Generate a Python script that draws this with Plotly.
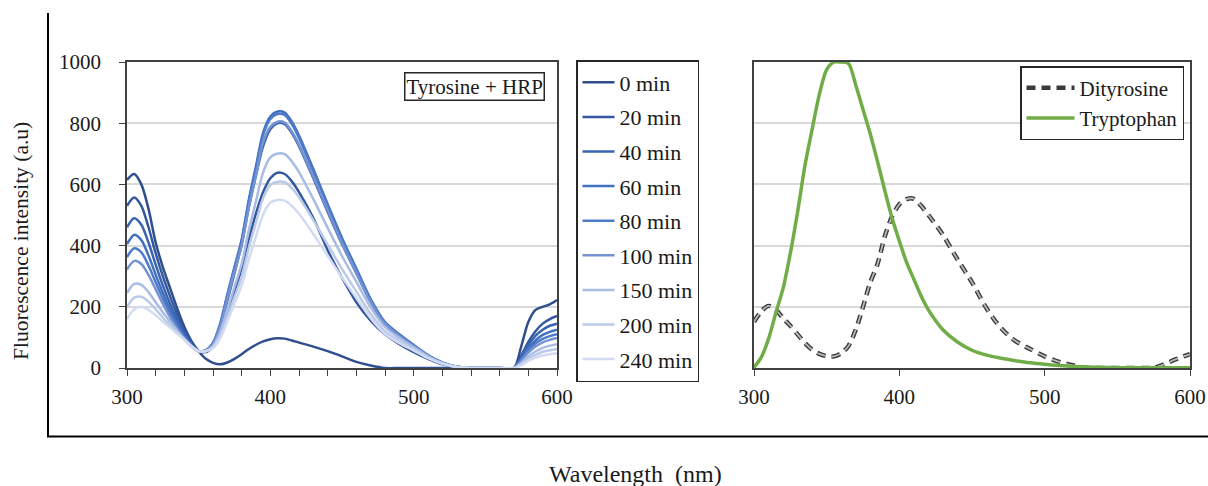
import plotly.graph_objects as go

# ---------------- data ----------------
wavelength = [300, 305, 310, 315, 320, 325, 330, 335, 340, 345, 350, 355, 360, 365, 370,
              375, 380, 385, 390, 395, 400, 405, 410, 415, 420, 430, 440, 450, 460, 470,
              480, 490, 500, 510, 520, 530, 540, 550, 560, 570, 575, 580, 585, 590, 595, 600]

series_names = ["0 min", "20 min", "40 min", "60 min", "80 min",
                "100 min", "150 min", "200 min", "240 min"]

tyr_0 = [615, 634, 600, 520, 410, 330, 262, 195, 135, 88, 55, 30, 17, 12, 18,
         30, 45, 62, 76, 87, 94, 97, 96, 90, 83, 70, 55, 38, 20, 8,
         0, 0, 0, 0, 0, 0, 0, 0, 0, 0, 70, 150, 190, 200, 208, 222]
tyr_20 = [530, 557, 530, 460, 375, 300, 235, 175, 122, 82, 56, 52, 70, 110, 175,
          250, 325, 420, 505, 575, 620, 638, 634, 610, 575, 490, 385, 295, 215, 155,
          110, 78, 52, 30, 12, 3, 0, 0, 0, 0, 40, 85, 120, 145, 160, 170]
tyr_40 = [460, 489, 468, 410, 338, 270, 210, 158, 112, 78, 56, 56, 80, 135, 220,
          310, 405, 525, 630, 725, 780, 800, 797, 768, 725, 620, 510, 405, 310, 215,
          143, 105, 71, 40, 17, 4, 0, 0, 0, 0, 35, 75, 105, 125, 138, 145]
tyr_60 = [405, 435, 418, 368, 305, 245, 192, 145, 105, 75, 55, 58, 82, 145, 240,
          330, 420, 550, 660, 770, 822, 838, 835, 805, 760, 650, 535, 425, 325, 225,
          150, 110, 75, 42, 18, 4, 0, 0, 0, 0, 30, 65, 90, 108, 118, 125]
tyr_80 = [362, 391, 378, 335, 280, 227, 178, 136, 100, 72, 55, 58, 80, 142, 236,
          326, 415, 543, 652, 762, 814, 830, 827, 797, 752, 643, 530, 420, 322, 222,
          148, 108, 74, 41, 17, 4, 0, 0, 0, 0, 26, 58, 80, 95, 104, 110]
tyr_100 = [322, 350, 340, 304, 257, 210, 166, 128, 95, 70, 55, 57, 78, 136, 226,
           315, 400, 525, 630, 738, 788, 805, 802, 773, 730, 625, 515, 408, 312, 216,
           144, 105, 72, 40, 17, 4, 0, 0, 0, 0, 22, 50, 70, 84, 92, 98]
tyr_150 = [245, 275, 272, 248, 215, 182, 152, 122, 95, 72, 55, 56, 72, 118, 190,
           265, 340, 450, 545, 640, 688, 701, 699, 675, 640, 552, 458, 366, 282, 198,
           134, 98, 68, 38, 16, 4, 0, 0, 0, 0, 16, 38, 54, 66, 73, 78]
tyr_200 = [200, 230, 233, 217, 192, 165, 140, 116, 93, 71, 55, 55, 68, 105, 166,
           232, 298, 393, 475, 556, 598, 609, 607, 588, 558, 483, 403, 324, 250, 177,
           120, 88, 61, 34, 15, 3, 0, 0, 0, 0, 12, 30, 43, 53, 58, 62]
tyr_240 = [160, 192, 200, 190, 172, 152, 132, 112, 92, 70, 55, 55, 65, 97, 152,
           210, 270, 355, 430, 502, 540, 549, 547, 530, 504, 438, 367, 296, 229, 163,
           111, 81, 57, 32, 14, 3, 0, 0, 0, 0, 9, 23, 34, 41, 45, 48]

tyr_series = [tyr_0, tyr_20, tyr_40, tyr_60, tyr_80, tyr_100, tyr_150, tyr_200, tyr_240]

dityrosine = [151, 185, 203, 190, 163, 138, 110, 82, 60, 46, 39, 38, 48, 72, 125,
              200, 280, 340, 430, 495, 535, 552, 553, 530, 500, 435, 355, 280, 195, 130,
              88, 62, 38, 20, 8, 0, 0, 0, 0, 0, 0, 8, 18, 28, 37, 45]
tryptophan = [2, 35, 95, 180, 260, 375, 510, 660, 780, 895, 975, 1000, 1000, 995, 925,
              845, 765, 675, 580, 490, 415, 345, 290, 235, 190, 125, 85, 58, 42, 32,
              24, 17, 12, 8, 5, 3, 2, 1, 1, 1, 1, 1, 1, 1, 1, 1]

x_tickvals_left = list(range(300, 601, 20))
x_ticktext_left = ["300", "", "", "", "", "400", "", "", "", "", "500", "", "", "", "", "600"]
x_tickvals_right = [300, 400, 500, 600]
x_ticktext_right = ["300", "400", "500", "600"]
y_tickvals = [0, 200, 400, 600, 800, 1000]
y_ticktext = ["0", "200", "400", "600", "800", "1000"]

# ---------------- style ----------------
W, H = 1208, 486
FONT = "Liberation Serif"
TXT = "#1a1a1a"
AX = "#404040"
series_colors = ["#2E4E8E", "#34589F", "#3B63B0", "#4170C0", "#4E7BC8",
                 "#7593D3", "#A9BCE4", "#BCCAEA", "#D2DBF1"]


def px_x(p):
    return p / W


def px_y(p):
    return (H - p) / H


left_dom = [px_x(127), px_x(557)]
right_dom = [px_x(754), px_x(1190)]
y_dom = [px_y(368), px_y(62)]

fig = go.Figure()

for i, (name, vals) in enumerate(zip(series_names, tyr_series)):
    fig.add_trace(go.Scatter(
        x=wavelength, y=vals, mode="lines", name=name,
        line=dict(color=series_colors[i], width=2.5, shape="spline", smoothing=0.8),
        xaxis="x", yaxis="y", legend="legend", legendgroup="g%d" % i,
    ))

# Dityrosine: outlined dashes (dark outline + light core)
fig.add_trace(go.Scatter(
    x=wavelength, y=dityrosine, mode="lines", name="Dityrosine",
    line=dict(color="#3a3a3a", width=4.5, dash="9px,6px", shape="spline", smoothing=0.8),
    xaxis="x2", yaxis="y2", legend="legend2",
))
fig.add_trace(go.Scatter(
    x=wavelength, y=dityrosine, mode="lines", name="Dityrosine core",
    line=dict(color="#b8b8b8", width=1.8, dash="9px,6px", shape="spline", smoothing=0.8),
    xaxis="x2", yaxis="y2", showlegend=False, hoverinfo="skip",
))
fig.add_trace(go.Scatter(
    x=wavelength, y=tryptophan, mode="lines", name="Tryptophan",
    line=dict(color="#70AD47", width=3.5, shape="spline", smoothing=0.8),
    xaxis="x2", yaxis="y2", legend="legend2",
))

tickfont = dict(family=FONT, size=21, color=TXT)

common_x = dict(range=[300, 600], showgrid=False, zeroline=False, showline=True,
                mirror=True, linecolor=AX, linewidth=1.5, ticks="outside",
                ticklen=6, tickwidth=1.2, tickcolor=AX, tickfont=tickfont,
                ticklabelstandoff=3, automargin=False)
common_y = dict(range=[0, 1000], domain=y_dom, showgrid=True, gridcolor="#d9d9d9",
                gridwidth=1.5, zeroline=False, showline=True, mirror=True,
                linecolor=AX, linewidth=1.5, tickfont=tickfont, automargin=False)

fig.update_layout(
    width=W, height=H, autosize=False,
    margin=dict(l=0, r=0, t=0, b=0, pad=0),
    paper_bgcolor="white", plot_bgcolor="white",
    font=dict(family=FONT, size=21, color=TXT),
    xaxis=dict(domain=left_dom, anchor="y", tickmode="array",
               tickvals=x_tickvals_left, ticktext=x_ticktext_left, **common_x),
    yaxis=dict(anchor="x", tickmode="array", tickvals=y_tickvals, ticktext=y_ticktext,
               ticks="outside", ticklen=6, tickwidth=1.2, tickcolor=AX,
               ticklabelstandoff=14, **common_y),
    xaxis2=dict(domain=right_dom, anchor="y2", tickmode="array",
                tickvals=x_tickvals_right, ticktext=x_ticktext_right, **common_x),
    yaxis2=dict(anchor="x2", tickmode="array", tickvals=y_tickvals,
                showticklabels=False, ticks="", **common_y),
    legend=dict(x=px_x(576), y=px_y(60), xanchor="left", yanchor="top",
                bgcolor="white", bordercolor="#262626", borderwidth=1.5,
                font=dict(family=FONT, size=22, color=TXT),
                tracegroupgap=3, itemwidth=32),
    legend2=dict(x=px_x(1184), y=px_y(66), xanchor="right", yanchor="top",
                 bgcolor="white", bordercolor="#262626", borderwidth=1.5,
                 font=dict(family=FONT, size=21, color=TXT),
                 tracegroupgap=0, itemwidth=48),
    showlegend=True,
)

# outer frame lines (left and bottom)
fig.add_shape(type="line", xref="paper", yref="paper",
              x0=px_x(48), y0=px_y(13), x1=px_x(48), y1=px_y(436.5),
              line=dict(color="black", width=2))
fig.add_shape(type="line", xref="paper", yref="paper",
              x0=px_x(47), y0=px_y(436.5), x1=1.0, y1=px_y(436.5),
              line=dict(color="black", width=2))

# axis titles
fig.add_annotation(text="Fluorescence intensity (a.u)", xref="paper", yref="paper",
                   x=px_x(21), y=px_y(241), textangle=-90, showarrow=False,
                   xanchor="center", yanchor="middle",
                   font=dict(family=FONT, size=21.5, color=TXT))
fig.add_annotation(text="Wavelength\u00a0\u00a0(nm)", xref="paper", yref="paper",
                   x=px_x(635), y=px_y(474), showarrow=False,
                   xanchor="center", yanchor="middle",
                   font=dict(family=FONT, size=24, color=TXT))

# panel label
fig.add_annotation(text="Tyrosine + HRP", xref="paper", yref="paper",
                   x=px_x(545), y=px_y(72), xanchor="right", yanchor="top",
                   showarrow=False, bgcolor="white", bordercolor="#262626",
                   borderwidth=1.5, borderpad=1,
                   font=dict(family=FONT, size=21, color=TXT))

fig.write_html(
    "out.html",
    config={"displayModeBar": False},
    post_script="document.body.style.margin='0px';document.body.style.overflow='hidden';",
)
